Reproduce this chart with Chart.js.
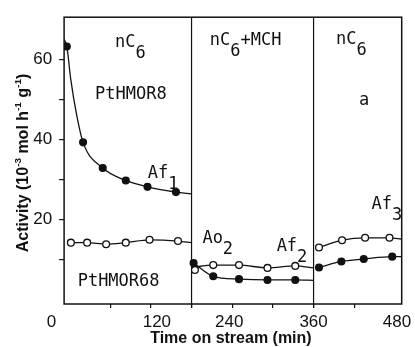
<!DOCTYPE html>
<html>
<head>
<meta charset="utf-8">
<script src="https://cdn.jsdelivr.net/npm/chart.js@4.4.1/dist/chart.umd.min.js"></script>
<style>
  html, body { margin: 0; padding: 0; background: #fff; }
  #wrap { width: 415px; height: 347px; }
</style>
</head>
<body>
<div id="wrap"><canvas id="activity" width="415" height="347"></canvas></div>
<script>
// measured points: PtHMOR8 (filled) and PtHMOR68 (open), time in min
const hmor8Time = [-4, 20, 49, 83, 115, 157, 183, 212, 250, 292, 333, 368, 401, 434, 476];
const hmor8Act = [63.2, 39.3, 32.9, 29.8, 28.2, 26.9, 9.2, 5.9, 5.2, 5.0, 5.0, 8.1, 9.6, 10.2, 10.8];
const hmor68Time = [2, 26, 54, 83, 118, 160, 185, 212, 250, 292, 333, 368, 402, 436, 472];
const hmor68Act = [14.3, 14.3, 13.9, 14.3, 15.0, 14.7, 7.5, 8.7, 8.7, 8.0, 8.5, 13.1, 14.9, 15.5, 15.5];

// fitted curves, one piece per feed period
const fit8Time = [[-8, -4, 2, 10, 20, 49, 83, 115, 157, 180], [183, 212, 250, 292, 333, 360], [368, 401, 434, 476, 490]];
const fit8Act = [[65, 63.2, 54.8, 46.6, 39.3, 32.9, 29.8, 28.2, 26.9, 26.4], [9.2, 5.9, 5.2, 5.0, 5.0, 4.9], [8.1, 9.6, 10.2, 10.8, 10.8]];
const fit68Time = [[2, 26, 54, 83, 118, 160, 180], [180, 212, 250, 292, 333, 360], [368, 402, 436, 472, 490]];
const fit68Act = [[14.3, 14.3, 13.9, 14.3, 15.0, 14.7, 14.3], [8.1, 8.7, 8.7, 8.0, 8.5, 8.0], [13.1, 14.9, 15.5, 15.5, 15.2]];

// feed switches (nC6 -> nC6+MCH -> nC6)
const switchTimes = [180, 360];

const xTicks = [60, 120, 180, 240, 300, 360, 420];
const xLabels = [0, 120, 240, 360, 480];
const yTicks = [10, 20, 30, 40, 50, 60];
const yLabels = [20, 40, 60];

// in-plot notes: [text, 'sub' | ''] pieces, anchored at (time, activity)
const notes = [
  { parts: [['nC', ''], ['6', 'sub']], t: 67, v: 63.0 },
  { parts: [['PtHMOR8', '']], t: 37.6, v: 50.1 },
  { parts: [['nC', ''], ['6', 'sub'], ['+MCH', '']], t: 207, v: 63.5 },
  { parts: [['nC', ''], ['6', 'sub']], t: 393, v: 63.7 },
  { parts: [['a', '']], t: 427, v: 48.6 },
  { parts: [['Af', ''], ['1', 'sub']], t: 115.5, v: 30.3 },
  { parts: [['Ao', ''], ['2', 'sub']], t: 196, v: 14.3 },
  { parts: [['Af', ''], ['2', 'sub']], t: 305.5, v: 12.3 },
  { parts: [['Af', ''], ['3', 'sub']], t: 445.5, v: 22.6 },
  { parts: [['PtHMOR68', '']], t: 12, v: 3.6 },
];

const ink = '#111';
const sans = '"Liberation Sans", Arial, sans-serif';
const mono = '"DejaVu Sans Mono", monospace';
const xLabelNudge = [-18, 6, -3, 0, 2];

const zip = (ts, vs) => ts.map((t, i) => ({ x: t, y: vs[i] }));

const curve = (ts, vs) => ({
  data: zip(ts, vs),
  borderColor: ink,
  borderWidth: 1.3,
  pointRadius: 0,
  cubicInterpolationMode: 'monotone',
  fill: false,
  order: 2,
});

const markers = (ts, vs, fillColor) => ({
  data: zip(ts, vs),
  showLine: false,
  pointRadius: 3.4,
  pointBorderWidth: 1.3,
  pointBorderColor: ink,
  pointBackgroundColor: fillColor,
  order: 1,
});

const datasets = [
  markers(hmor8Time, hmor8Act, ink),
  markers(hmor68Time, hmor68Act, '#fff'),
  ...fit8Time.map((ts, i) => curve(ts, fit8Act[i])),
  ...fit68Time.map((ts, i) => curve(ts, fit68Act[i])),
];

// draws text made of plain / sub / sup pieces, left to right from x
function drawParts(ctx, parts, x, y, size, weight, family) {
  parts.forEach(([s, kind]) => {
    const small = kind === 'sup';
    ctx.font = `${weight} ${small ? size * 0.62 : size}px ${family}`;
    const dy = kind === 'sub' ? 11 : kind === 'sup' ? -size * 0.42 : 0;
    ctx.fillText(s, x, y + dy);
    x += ctx.measureText(s).width;
  });
}

function partsWidth(ctx, parts, size, weight, family) {
  let w = 0;
  parts.forEach(([s, kind]) => {
    ctx.font = `${weight} ${kind === 'sup' ? size * 0.62 : size}px ${family}`;
    w += ctx.measureText(s).width;
  });
  return w;
}

const decor = {
  id: 'decor',
  beforeDatasetsDraw(chart) {
    const { ctx, chartArea: a, scales: { x } } = chart;
    ctx.save();
    ctx.strokeStyle = ink;
    ctx.lineWidth = 1.5;
    ctx.strokeRect(a.left, a.top, a.right - a.left, a.bottom - a.top);
    ctx.lineWidth = 1.2;
    switchTimes.forEach((t) => {
      const px = x.getPixelForValue(t);
      ctx.beginPath();
      ctx.moveTo(px, a.top);
      ctx.lineTo(px, a.bottom + 4);
      ctx.stroke();
    });
    ctx.restore();
  },
  afterDraw(chart) {
    const { ctx, chartArea: a, scales: { x, y } } = chart;
    ctx.save();
    ctx.fillStyle = ink;
    ctx.textBaseline = 'alphabetic';

    // x tick labels
    ctx.font = `17px ${sans}`;
    ctx.textAlign = 'center';
    xLabels.forEach((v, i) => {
      ctx.fillText(String(v), x.getPixelForValue(v) + xLabelNudge[i], a.bottom + 23);
    });

    // axis titles
    ctx.textAlign = 'left';
    const xTitle = [['Time on stream (min)', '']];
    const xw = partsWidth(ctx, xTitle, 16, 'bold', sans);
    drawParts(ctx, xTitle, (a.left + a.right) / 2 - 2 - xw / 2, 343, 16, 'bold', sans);

    const yTitle = [['Activity (10', ''], ['-3', 'sup'], [' mol h', ''], ['-1', 'sup'], [' g', ''], ['-1', 'sup'], [')', '']];
    const yw = partsWidth(ctx, yTitle, 16, 'bold', sans);
    ctx.save();
    ctx.translate(28, 163);
    ctx.rotate(-Math.PI / 2);
    drawParts(ctx, yTitle, -yw / 2, 0, 16, 'bold', sans);
    ctx.restore();

    // notes inside the plot
    notes.forEach((n) => {
      drawParts(ctx, n.parts, x.getPixelForValue(n.t), y.getPixelForValue(n.v), 17, 'normal', mono);
    });
    ctx.restore();
  },
};

new Chart(document.getElementById('activity'), {
  type: 'line',
  data: { datasets },
  plugins: [decor],
  options: {
    responsive: false,
    animation: false,
    devicePixelRatio: 1,
    layout: { padding: { left: 0, right: 13.3, top: 15, bottom: 0 } },
    plugins: { legend: { display: false }, tooltip: { enabled: false } },
    scales: {
      x: {
        type: 'linear',
        min: -8,
        max: 490,
        afterFit: (s) => { s.height = 43; },
        afterBuildTicks: (s) => { s.ticks = xTicks.map((v) => ({ value: v })); },
        grid: { drawOnChartArea: false, color: ink, lineWidth: 1.2, tickLength: 4 },
        border: { display: false },
        ticks: { display: false },
      },
      y: {
        min: -1,
        max: 70.5,
        afterFit: (s) => { s.width = 64.1; },
        afterBuildTicks: (s) => { s.ticks = yTicks.map((v) => ({ value: v })); },
        grid: { drawOnChartArea: false, color: ink, lineWidth: 1.2, tickLength: 5 },
        border: { display: false },
        ticks: {
          color: ink,
          padding: 7,
          font: { family: sans, size: 17 },
          callback: (v) => (yLabels.includes(v) ? String(v) : ''),
        },
      },
    },
  },
});
</script>
</body>
</html>
